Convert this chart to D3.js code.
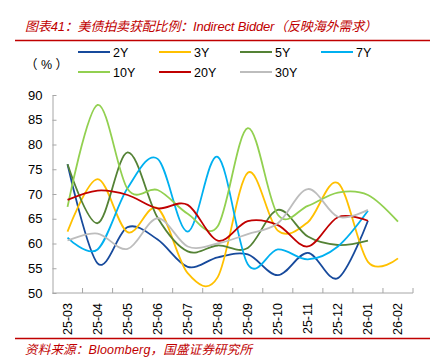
<!DOCTYPE html>
<html>
<head>
<meta charset="utf-8">
<script src="https://cdn.jsdelivr.net/npm/d3@7"></script>
<style>
  body { margin: 0; background: #fff; }
  text { font-family: Arial, "Liberation Sans", "Noto Sans CJK SC", sans-serif; }
</style>
</head>
<body>
<div id="chart"></div>
<script>
// monthly auction dates
const months = ["25-03", "25-04", "25-05", "25-06", "25-07", "25-08", "25-09", "25-10", "25-11", "25-12", "26-01", "26-02"];
const yTicks = [50, 55, 60, 65, 70, 75, 80, 85, 90];

// indirect bidder share, %
const y2 = [76.0, 56.0, 63.3, 60.8, 55.3, 57.2, 57.8, 53.6, 58.1, 53.0, 64.6];
const y3 = [62.4, 73.0, 62.3, 67.1, 54.0, 53.2, 74.3, 62.6, 64.3, 72.2, 56.3, 57.0];
const y5 = [76.0, 64.1, 78.4, 65.2, 58.4, 59.6, 59.1, 66.8, 61.4, 59.7, 60.6];
const y7 = [61.2, 58.8, 71.2, 77.1, 62.4, 77.5, 55.8, 58.8, 56.8, 59.4, 66.6];
const y10 = [67.4, 88.0, 71.0, 70.8, 66.0, 63.5, 83.3, 65.8, 67.6, 70.3, 69.8, 64.4];
const y20 = [68.8, 70.7, 69.8, 67.1, 67.8, 60.6, 64.5, 63.7, 59.4, 65.3, 64.6];
const y30 = [60.6, 62.0, 58.9, 65.1, 59.4, 60.0, 61.9, 64.1, 71.0, 65.4, 66.8];

const seriesNames = ["2Y", "3Y", "5Y", "7Y", "10Y", "20Y", "30Y"];
const seriesValues = [y2, y3, y5, y7, y10, y20, y30];
const colors = ["#174A9C", "#FFC000", "#548235", "#00B0F0", "#92D050", "#C00000", "#BDBDBD"];

const width = 440, height = 364;
const plot = { left: 52.5, right: 413, top: 95, bottom: 293 };
const red = "#C00000";

const svg = d3.select("#chart").append("svg")
    .attr("width", width)
    .attr("height", height);

// title + rules
svg.append("text")
    .attr("x", 25).attr("y", 31)
    .attr("fill", red)
    .attr("textLength", 352)
    .attr("lengthAdjust", "spacing")
    .style("font-size", "13px")
    .style("font-style", "italic")
    .text("图表41：美债拍卖获配比例：Indirect Bidder（反映海外需求）");

svg.append("line")
    .attr("x1", 15).attr("x2", 430).attr("y1", 40.5).attr("y2", 40.5)
    .attr("stroke", red).attr("stroke-width", 1.3);

svg.append("line")
    .attr("x1", 15).attr("x2", 430).attr("y1", 338.5).attr("y2", 338.5)
    .attr("stroke", red).attr("stroke-width", 1.3);

svg.append("text")
    .attr("x", 25).attr("y", 354)
    .attr("fill", red)
    .attr("textLength", 227)
    .attr("lengthAdjust", "spacing")
    .style("font-size", "12.5px")
    .style("font-style", "italic")
    .text("资料来源：Bloomberg，国盛证券研究所");

svg.append("text")
    .attr("x", 25).attr("y", 69)
    .attr("fill", "#000")
    .style("font-size", "12.5px")
    .style("white-space", "pre")
    .text("（ % ）");

// scales
const x = d3.scaleBand()
    .domain(months)
    .range([plot.left, plot.right]);

const y = d3.scaleLinear()
    .domain([50, 90])
    .range([plot.bottom, plot.top]);

// y axis
const yAxis = svg.append("g")
    .attr("transform", `translate(${plot.left},0)`)
    .call(d3.axisLeft(y).tickValues(yTicks).tickSize(-4).tickPadding(10).tickSizeOuter(0));
yAxis.select(".domain").attr("stroke", "#A6A6A6");
yAxis.selectAll(".tick line").attr("stroke", "#A6A6A6");
yAxis.selectAll(".tick text")
    .attr("fill", "#000")
    .style("font-size", "13px")
    .style("font-family", "Arial, 'Liberation Sans', sans-serif");

// x axis, ticks on band edges
const xAxis = svg.append("g")
    .attr("transform", `translate(0,${plot.bottom})`);
xAxis.append("line")
    .attr("x1", plot.left).attr("x2", plot.right)
    .attr("stroke", "#A6A6A6");
xAxis.selectAll(".edge")
    .data(months)
    .enter().append("line")
    .attr("class", "edge")
    .attr("x1", d => x(d) + x.bandwidth())
    .attr("x2", d => x(d) + x.bandwidth())
    .attr("y1", 0).attr("y2", -5)
    .attr("stroke", "#A6A6A6");
xAxis.selectAll(".lbl")
    .data(months)
    .enter().append("text")
    .attr("class", "lbl")
    .attr("transform", d => `translate(${x(d) + x.bandwidth() / 2 + 4.5},10) rotate(-90)`)
    .attr("text-anchor", "end")
    .attr("fill", "#000")
    .style("font-size", "12.5px")
    .text(d => d);

// lines
const line = d3.line()
    .x((d, i) => x(months[i]) + x.bandwidth() / 2)
    .y(d => y(d))
    .curve(d3.curveCardinal.tension(0));

svg.append("g")
    .selectAll("path")
    .data(seriesValues)
    .enter().append("path")
    .attr("d", line)
    .attr("fill", "none")
    .attr("stroke", (d, i) => colors[i])
    .attr("stroke-width", 1.8);

// legend
const legend = svg.append("g")
    .selectAll("g")
    .data(seriesNames)
    .enter().append("g")
    .attr("transform", (d, i) => `translate(${78 + (i % 4) * 81},${i < 4 ? 52 : 72})`);

legend.append("line")
    .attr("x1", 0).attr("x2", 32)
    .attr("stroke", (d, i) => colors[i])
    .attr("stroke-width", 2);

legend.append("text")
    .attr("x", 35).attr("y", 4.5)
    .attr("fill", "#000")
    .style("font-size", "12.5px")
    .text(d => d);
</script>
</body>
</html>
